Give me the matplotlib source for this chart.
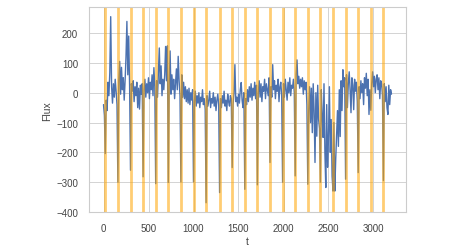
import numpy as np
import matplotlib
matplotlib.use("Agg")
import matplotlib.pyplot as plt
import seaborn as sns


# =========================
# DATA
# =========================

t = np.arange(0, 3201, 10)

flux = [
    -40, -75, -204, -25, -60, 35, -10, 67, 255, 20,
    -35, 30, -15, 45, 5, -40, -300, 40, 105, -5,
    85, 10, 50, -25, 40, 120, 239, 60, 190, 25,
    -260, 30, 5, 40, -30, 20, -10, 35, -50, 15,
    -55, 25, -5, 30, -282, 10, 45, -15, 30, 0,
    50, -20, 35, 10, 60, -10, 84, 20, -305, 40,
    -15, 70, 150, 30, 90, -10, 45, 10, 60, 155,
    40, 157, -301, 20, 140, -5, 60, 10, 45, -20,
    30, 80, 10, 122, 40, -10, -299, 60, -15, 35,
    -20, 20, -30, 10, -35, 15, -40, 0, -25, 10,
    -299, -30, 5, -45, -10, -35, 0, -50, -15, -30,
    10, -40, -20, -55, -369, -10, -45, -25, 5, -50,
    -20, -35, 0, -45, -15, -60, -25, -5, -40, -335,
    -20, -50, -10, -35, 5, -45, -25, -60, -5, -30,
    -45, -10, -20, -251, -40, 0, 94, -30, -15, -45,
    -5, -35, 10, 34, -25, -50, 0, -324, -20, -40,
    10, -30, 20, -15, 30, -25, 15, -10, 35, -20,
    25, -309, 0, 40, -15, 30, -30, 20, 5, 45,
    -20, 30, 10, -10, 50, -234, 20, -15, 94, 10,
    40, -20, 25, 5, 45, -30, 20, 35, -10, -300,
    30, -15, 45, 10, -25, 35, 0, 50, -10, 25,
    15, 45, 0, -279, 60, 110, 30, 55, 15, 45,
    20, 50, -5, 40, 10, 35, -40, -307, -60, 20,
    -100, 15, -134, 30, -60, -234, 0, -146, 25, -90,
    -120, -300, 10, -80, -150, 30, -200, -318, -40, -250,
    -150, 20, -200, -90, -280, -330, -100, -330, -224, -146,
    -60, -180, 10, -147, 40, -60, 77, 20, 50, -290,
    60, -50, 30, 70, 10, -67, 50, 25, -57, 45,
    5, 35, -30, -268, 20, -20, 40, 0, 30, -40,
    50, 15, 65, -10, 45, -73, 10, -59, 30, 70,
    20, 55, 0, 45, 60, 10, 50, -20, 40, 30,
    -10, -295, 30, -30, 20, -50, -73, 25, -40, 10,
    -5,
]

transits = [20, 160, 300, 440, 580, 720, 860, 1000, 1140, 1290, 1430, 1570,
            1710, 1850, 1990, 2130, 2270, 2410, 2550, 2690, 2830, 2970, 3110]


# =========================
# PLOT
# =========================

sns.set_theme(style="whitegrid")
plt.rcParams["font.family"] = ["Liberation Sans", "DejaVu Sans"]

fig = plt.figure(figsize=(4.5, 2.53), dpi=100)
ax = fig.add_axes([0.198, 0.158, 0.704, 0.809])

ax.plot(t, flux, color="#4C72B0", lw=1.0)

for tt in transits:
    ax.axvline(tt, color="orange", alpha=0.55, lw=2)

ax.set_xlabel("t", fontsize=7.5, labelpad=2, color="#444444")
ax.set_ylabel("Flux", fontsize=7.5, labelpad=3, color="#444444")
ax.tick_params(labelsize=7, pad=2, labelcolor="#444444")
ax.set_yticks(range(-400, 201, 100))

for s in ax.spines.values():
    s.set_linewidth(0.8)

ax.grid(True, lw=0.6)

fig.savefig("out.png", dpi=100)
